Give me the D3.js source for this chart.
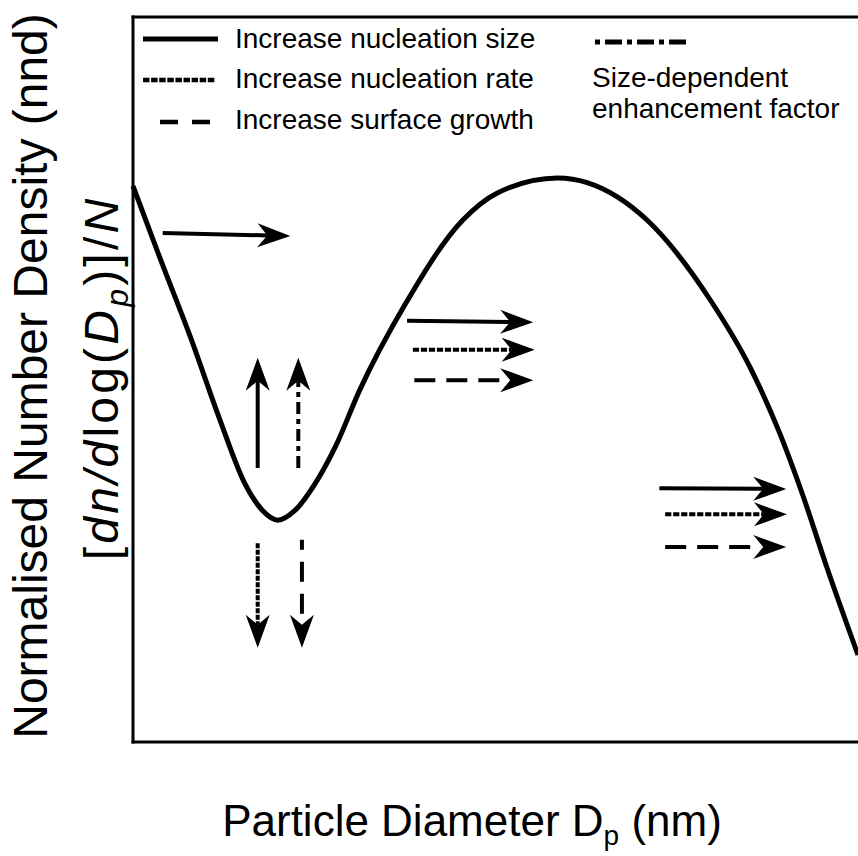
<!DOCTYPE html>
<html>
<head>
<meta charset="utf-8">
<script src="https://cdn.jsdelivr.net/npm/d3@7/dist/d3.min.js"></script>
<style>
  html, body { margin: 0; padding: 0; background: #fff; }
  svg { display: block; }
  text { font-family: "Liberation Sans", Arial, Helvetica, sans-serif; fill: #000; }
</style>
</head>
<body>
<script>
// Normalised size distribution: particle diameter (relative units) vs nnd
const diameter = [0, 3.7, 7.9, 12.0, 15.4, 17.8, 20.0, 22.3, 25.1, 27.9, 31.3, 37.5,
                  45.5, 50.2, 58.6, 66.8, 70.9, 79.6, 85.1, 89.2, 92.4, 95.7, 100];
const density  = [0.767, 0.668, 0.559, 0.444, 0.357, 0.320, 0.306, 0.319, 0.356, 0.407, 0.486, 0.603,
                  0.720, 0.757, 0.778, 0.752, 0.720, 0.610, 0.517, 0.426, 0.340, 0.241, 0.120];

// Shift arrows: start and end in data units, with the process they stand for
const arrowX0 = [4.1, 37.8, 38.6, 38.8, 72.6, 73.4, 73.4, 17.2, 22.8, 17.2, 23.3];
const arrowY0 = [0.702, 0.581, 0.541, 0.499, 0.350, 0.314, 0.269, 0.378, 0.378, 0.274, 0.279];
const arrowX1 = [21.7, 55.2, 55.4, 55.2, 90.1, 90.2, 90.1, 17.2, 22.8, 17.2, 23.3];
const arrowY1 = [0.698, 0.579, 0.541, 0.499, 0.349, 0.314, 0.269, 0.530, 0.530, 0.130, 0.130];
const arrowKind = ["size", "size", "rate", "growth", "size", "rate", "growth", "size", "enhance", "rate", "growth"];

// Legend entries
const legendKinds  = ["size", "rate", "growth"];
const legendLabels = ["Increase nucleation size", "Increase nucleation rate", "Increase surface growth"];
const enhanceLabel = ["Size-dependent", "enhancement factor"];

const W = 858, H = 856;
const plot = { left: 133, top: 17, right: 858, bottom: 742 };

const x = d3.scaleLinear().domain([0, 100]).range([plot.left, plot.right]);
const y = d3.scaleLinear().domain([0, 1]).range([plot.bottom, plot.top]);

const svg = d3.select("body").append("svg")
  .attr("width", W).attr("height", H)
  .attr("viewBox", `0 0 ${W} ${H}`);

svg.append("rect").attr("width", W).attr("height", H).attr("fill", "#fff");

// Line styles for each process
const dashes = {
  size: null,
  rate: "6.2,1.8",
  growth: "21,11",
  enhance: "12,5,5,5"
};
const vertDashes = {
  size: null,
  rate: "5,1.5",
  growth: "20,12",
  enhance: "12,5,5,5"
};

// Frame: left, bottom and top axes without ticks
const frame = svg.append("g");
const leftAxis = frame.append("g").attr("transform", `translate(${plot.left},0)`)
  .call(d3.axisLeft(y).tickValues([]).tickSizeOuter(0));
const bottomAxis = frame.append("g").attr("transform", `translate(0,${plot.bottom})`)
  .call(d3.axisBottom(x).tickValues([]).tickSizeOuter(0));
const topAxis = frame.append("g").attr("transform", `translate(0,${plot.top})`)
  .call(d3.axisTop(x).tickValues([]).tickSizeOuter(0));
frame.selectAll(".domain").attr("stroke", "#000").attr("stroke-width", 3);
leftAxis.select(".domain").attr("d", `M0,${plot.top - 1.5}V${plot.bottom + 1.5}`);
bottomAxis.select(".domain").attr("d", `M${plot.left - 1.5},0H${plot.right + 2}`);
topAxis.select(".domain").attr("d", `M${plot.left - 1.5},0H${plot.right + 2}`);

// Distribution curve
const pts = diameter.map((d, i) => [d, density[i]]);
const line = d3.line()
  .x(d => x(d[0]))
  .y(d => y(d[1]))
  .curve(d3.curveMonotoneX);
svg.append("path")
  .datum(pts)
  .attr("d", line)
  .attr("fill", "none")
  .attr("stroke", "#000")
  .attr("stroke-width", 5)
  .attr("stroke-linejoin", "round");

// Arrows
const headLen = 33, headHalf = 12, notch = 23;
const arrowG = svg.append("g");
arrowX0.forEach((_, i) => {
  const px0 = x(arrowX0[i]), py0 = y(arrowY0[i]);
  const px1 = x(arrowX1[i]), py1 = y(arrowY1[i]);
  const dx = px1 - px0, dy = py1 - py0;
  const len = Math.hypot(dx, dy);
  const ux = dx / len, uy = dy / len;
  const nx = -uy, ny = ux;
  const kind = arrowKind[i];
  const vertical = Math.abs(uy) > Math.abs(ux);
  const stop = kind === "growth" ? headLen : notch;
  const g = arrowG.append("g");
  g.append("line")
    .attr("x1", px0).attr("y1", py0)
    .attr("x2", px1 - stop * ux).attr("y2", py1 - stop * uy)
    .attr("stroke", "#000")
    .attr("stroke-width", 4)
    .attr("stroke-linecap", "butt")
    .attr("stroke-dasharray", vertical ? vertDashes[kind] : dashes[kind])
    .attr("stroke-dashoffset", vertical && kind === "growth" ? 10 : 0);
  const bx = px1 - headLen * ux, by = py1 - headLen * uy;
  const head = [
    [px1, py1],
    [bx + headHalf * nx, by + headHalf * ny],
    [px1 - notch * ux, py1 - notch * uy],
    [bx - headHalf * nx, by - headHalf * ny]
  ];
  g.append("path")
    .attr("d", "M" + head.map(p => p.join(",")).join("L") + "Z")
    .attr("fill", "#000");
});

// Legend
const legend = svg.append("g");
const legendRows = [
  { x0: 143, x1: 218, y: 39, base: 48 },
  { x0: 143, x1: 216, y: 80, base: 88 },
  { x0: 160, x1: 211, y: 122, base: 129 }
];
legendKinds.forEach((k, i) => {
  const r = legendRows[i];
  legend.append("line")
    .attr("x1", r.x0).attr("x2", r.x1)
    .attr("y1", r.y).attr("y2", r.y)
    .attr("stroke", "#000")
    .attr("stroke-width", k === "size" ? 5 : 4.5)
    .attr("stroke-dasharray", k === "growth" ? "18,14" : (k === "rate" ? "6.5,1.6" : null));
  legend.append("text")
    .attr("x", 235).attr("y", r.base)
    .attr("font-size", 28)
    .text(legendLabels[i]);
});
legend.append("line")
  .attr("x1", 595).attr("x2", 687)
  .attr("y1", 42).attr("y2", 42)
  .attr("stroke", "#000").attr("stroke-width", 5)
  .attr("stroke-dasharray", "5,5,17,5");
enhanceLabel.forEach((t, i) => {
  legend.append("text")
    .attr("x", 592).attr("y", 87 + i * 31)
    .attr("font-size", 28)
    .text(t);
});

// Axis titles
const xt = svg.append("text")
  .attr("x", 472).attr("y", 836)
  .attr("text-anchor", "middle")
  .attr("font-size", 44);
xt.append("tspan").text("Particle Diameter D");
xt.append("tspan").attr("font-size", 28).attr("dy", 9).text("p");
xt.append("tspan").attr("dy", -9).text(" (nm)");

svg.append("text")
  .attr("transform", "translate(47,376) rotate(-90)")
  .attr("text-anchor", "middle")
  .attr("font-size", 48)
  .text("Normalised Number Density (nnd)");

const yt2 = svg.append("text")
  .attr("transform", "translate(118,378) rotate(-90)")
  .attr("text-anchor", "middle")
  .attr("font-size", 48)
  .attr("letter-spacing", 3.2);
yt2.append("tspan").text("[");
yt2.append("tspan").attr("font-style", "italic").text("dn/d");
yt2.append("tspan").text("log(");
yt2.append("tspan").attr("font-style", "italic").text("D");
yt2.append("tspan").attr("font-style", "italic").attr("font-size", 32).attr("dy", 10).text("p");
yt2.append("tspan").attr("dy", -10).text(")]/");
yt2.append("tspan").attr("font-style", "italic").text("N");
</script>
</body>
</html>
